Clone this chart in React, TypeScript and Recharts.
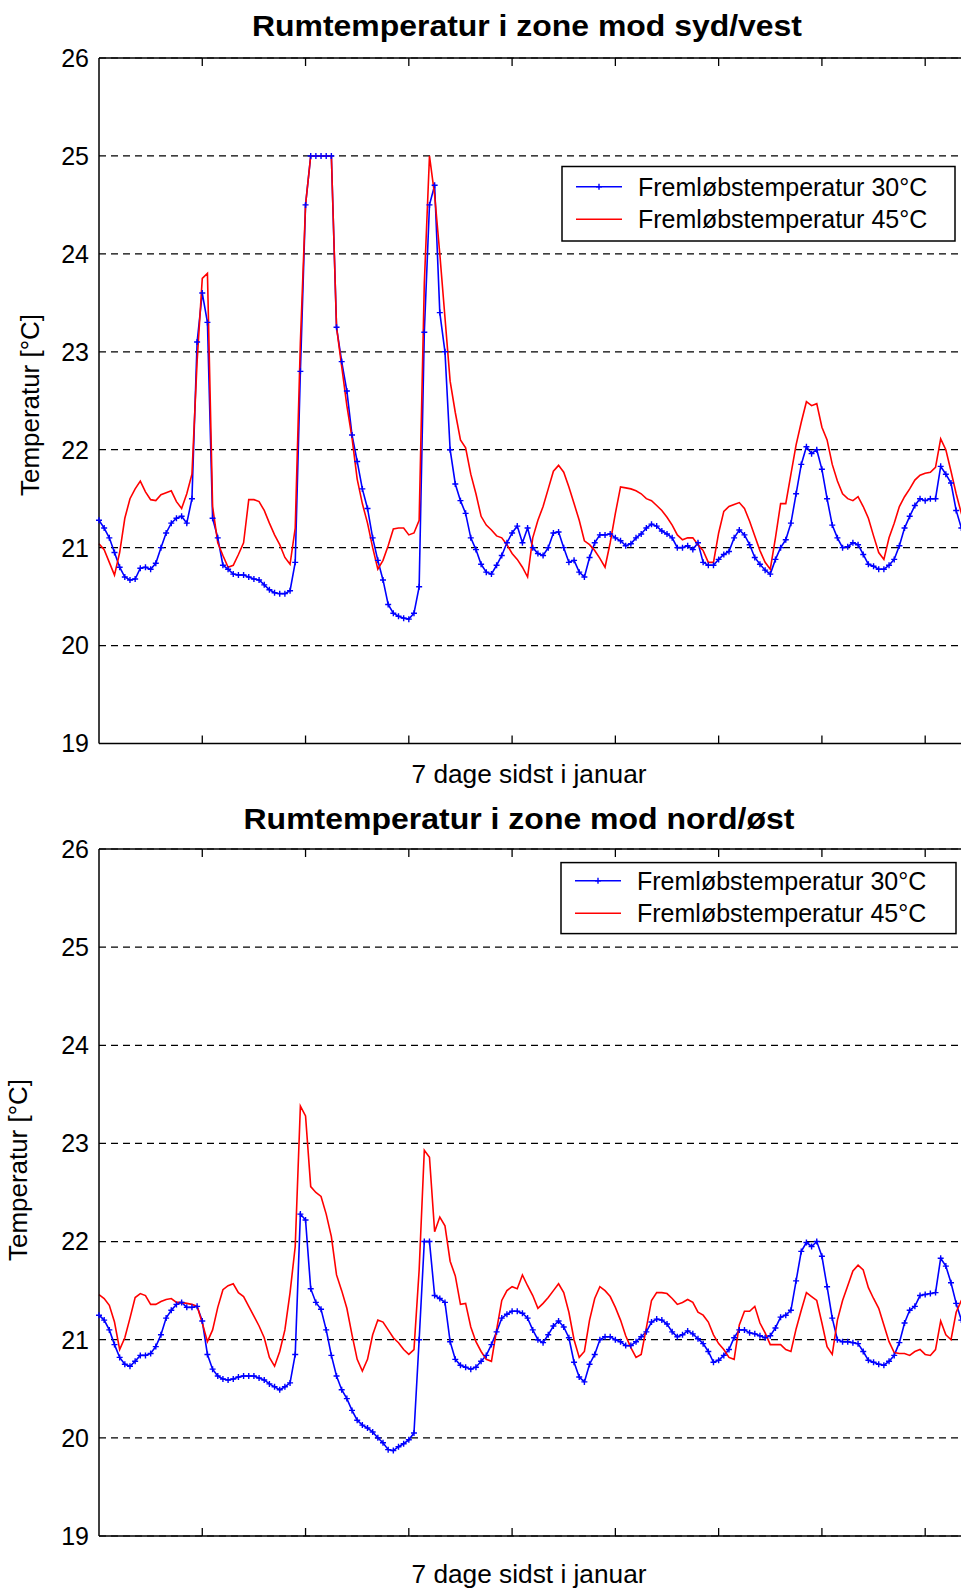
import React from 'react';
import { LineChart, Line, XAxis, YAxis, CartesianGrid } from 'recharts';

// hourly room temperatures, 7 days (hour 0..168)
const topBlue = [
  21.28, 21.2, 21.1, 20.95, 20.8, 20.7, 20.67, 20.68, 20.79, 20.8,
  20.78, 20.84, 21.0, 21.15, 21.25, 21.3, 21.32, 21.25, 21.5, 23.1,
  23.6, 23.3, 21.3, 21.1, 20.82, 20.78, 20.73, 20.72, 20.72, 20.7,
  20.68, 20.67, 20.62, 20.57, 20.54, 20.53, 20.53, 20.56, 20.85, 22.8,
  24.5, 25, 25, 25, 25, 25, 23.25, 22.9, 22.6, 22.15,
  21.88, 21.6, 21.4, 21.1, 20.87, 20.67, 20.42, 20.33, 20.3, 20.28,
  20.27, 20.33, 20.6, 23.2, 24.5, 24.7, 23.4, 23.0, 22.0, 21.65,
  21.48, 21.35, 21.1, 20.98, 20.83, 20.75, 20.73, 20.82, 20.92, 21.05,
  21.15, 21.22, 21.05, 21.2, 21.0, 20.94, 20.92, 21.0, 21.15, 21.16,
  21.0, 20.85, 20.87, 20.75, 20.7, 20.9, 21.05, 21.13, 21.13, 21.14,
  21.1, 21.07, 21.02, 21.04, 21.1, 21.14, 21.2, 21.24, 21.22, 21.17,
  21.14, 21.1, 21.0, 21.0, 21.02, 20.98, 21.05, 20.85, 20.82, 20.82,
  20.88, 20.93, 20.96, 21.1, 21.18, 21.13, 21.03, 20.9, 20.83, 20.77,
  20.73, 20.88, 21.0, 21.08, 21.25, 21.55, 21.85, 22.03, 21.96, 22.0,
  21.8, 21.5, 21.23, 21.1, 21.0, 21.01, 21.05, 21.03, 20.93, 20.83,
  20.81, 20.78, 20.78, 20.82, 20.88, 21.02, 21.2, 21.32, 21.43, 21.5,
  21.48, 21.5, 21.5, 21.83, 21.75, 21.66, 21.38, 21.2, 21.1,
];

const topRed = [
  21.04, 20.98, 20.85, 20.72, 20.95, 21.3, 21.5, 21.6, 21.68, 21.57,
  21.49, 21.48, 21.54, 21.56, 21.58, 21.47, 21.4, 21.55, 21.75, 22.9,
  23.75, 23.8, 21.42, 21.05, 20.92, 20.8, 20.82, 20.93, 21.05, 21.49,
  21.49, 21.47, 21.38, 21.25, 21.13, 21.03, 20.9, 20.83, 21.2, 23.1,
  24.5, 25, 25, 25, 25, 25, 23.25, 22.85, 22.45, 22.12,
  21.7, 21.45, 21.25, 21.0, 20.78, 20.87, 21.02, 21.19, 21.2, 21.2,
  21.13, 21.15, 21.28, 23.7, 25, 24.6, 24.0, 23.35, 22.7, 22.38,
  22.1, 22.02, 21.75, 21.55, 21.32, 21.23, 21.18, 21.12, 21.1, 21.03,
  20.94, 20.88, 20.8, 20.7, 21.1, 21.28, 21.42, 21.6, 21.78, 21.84,
  21.77, 21.62, 21.45, 21.28, 21.07, 21.03, 20.97, 20.89, 20.8, 21.05,
  21.35, 21.62, 21.61, 21.6, 21.58, 21.55, 21.5, 21.48, 21.43, 21.38,
  21.31, 21.23, 21.13, 21.08, 21.1, 21.1, 21.03, 20.97, 20.85, 20.85,
  21.15, 21.37, 21.42, 21.44, 21.46, 21.4, 21.27, 21.12, 20.97, 20.85,
  20.78, 21.1, 21.45, 21.45, 21.75, 22.05, 22.28, 22.49, 22.45, 22.47,
  22.23, 22.1, 21.85, 21.68, 21.55, 21.5, 21.48, 21.52, 21.42, 21.3,
  21.12, 20.95, 20.88, 21.1, 21.25, 21.42, 21.52, 21.6, 21.69, 21.74,
  21.76, 21.77, 21.82, 22.11, 22.0, 21.78, 21.55, 21.35, 21.2,
];

const bottomBlue = [
  21.25, 21.2, 21.1, 20.95, 20.82, 20.75, 20.73, 20.78, 20.84, 20.84,
  20.86, 20.93, 21.05, 21.22, 21.3, 21.36, 21.38, 21.33, 21.33, 21.34,
  21.19, 20.85, 20.7, 20.63, 20.6, 20.59, 20.6, 20.62, 20.63, 20.63,
  20.63, 20.61, 20.59, 20.55, 20.52, 20.49, 20.52, 20.56, 20.85, 22.28,
  22.22, 21.52, 21.38, 21.31, 21.1, 20.84, 20.63, 20.49, 20.4, 20.28,
  20.18, 20.13, 20.1, 20.06, 20.0, 19.95, 19.88, 19.87, 19.91, 19.94,
  19.98, 20.05, 21.0, 22.0, 22.0, 21.45, 21.42, 21.38, 20.98, 20.8,
  20.74, 20.72, 20.7, 20.72, 20.78, 20.84, 20.95, 21.08, 21.22, 21.26,
  21.29, 21.29, 21.27, 21.22, 21.1, 21.0, 20.97, 21.05, 21.14, 21.19,
  21.13, 21.02, 20.77, 20.62, 20.57, 20.75, 20.85, 21.0, 21.03, 21.03,
  21.0, 20.98, 20.94, 20.94, 20.98, 21.03, 21.08, 21.18, 21.21, 21.2,
  21.16, 21.08, 21.03, 21.05, 21.09, 21.06, 21.01, 20.96, 20.88, 20.77,
  20.79, 20.84, 20.9, 21.02, 21.1, 21.1, 21.07, 21.06, 21.04, 21.02,
  21.04, 21.12, 21.23, 21.25, 21.3, 21.6, 21.9, 21.99, 21.95, 22.0,
  21.85, 21.54, 21.22, 21.0, 20.98, 20.98, 20.97, 20.96, 20.88, 20.79,
  20.77, 20.75, 20.74, 20.78, 20.84, 20.97, 21.17, 21.3, 21.34, 21.45,
  21.46, 21.47, 21.48, 21.83, 21.75, 21.58, 21.37, 21.2, 21.1,
];

const bottomRed = [
  21.46, 21.42, 21.35, 21.18, 20.9, 21.02, 21.22, 21.43, 21.47, 21.45,
  21.36, 21.36, 21.39, 21.41, 21.42, 21.38, 21.38, 21.37, 21.36, 21.34,
  21.17, 20.98, 21.1, 21.33, 21.51, 21.55, 21.57, 21.48, 21.44, 21.34,
  21.24, 21.14, 21.02, 20.82, 20.73, 20.88, 21.1, 21.48, 21.95, 23.38,
  23.28, 22.56, 22.5, 22.46, 22.28, 22.05, 21.66, 21.5, 21.32, 21.05,
  20.8, 20.68, 20.8, 21.05, 21.2, 21.18, 21.1, 21.02, 20.97, 20.9,
  20.85, 20.9, 21.71, 22.93, 22.86, 22.1, 22.25, 22.16, 21.8, 21.65,
  21.36, 21.37, 21.13, 20.98, 20.88, 20.8, 20.78, 21.1, 21.4, 21.5,
  21.54, 21.52, 21.66, 21.55, 21.45, 21.32, 21.37, 21.43, 21.5, 21.57,
  21.48, 21.28, 21.0, 20.82, 20.88, 21.2, 21.42, 21.54, 21.5, 21.44,
  21.33, 21.2, 21.04, 20.92, 20.82, 20.85, 21.12, 21.4, 21.48, 21.48,
  21.47, 21.42, 21.36, 21.38, 21.41, 21.38, 21.28, 21.25, 21.18, 21.05,
  20.96, 20.9, 20.82, 20.8, 21.15, 21.29, 21.29, 21.34, 21.17, 21.07,
  20.95, 20.95, 20.95, 20.9, 20.88, 21.11, 21.3, 21.48, 21.44, 21.4,
  21.17, 20.93, 20.85, 21.2, 21.4, 21.55, 21.7, 21.76, 21.71, 21.53,
  21.42, 21.32, 21.15, 20.98, 20.87, 20.86, 20.86, 20.84, 20.88, 20.9,
  20.85, 20.84, 20.9, 21.19, 21.05, 21.0, 21.28, 21.4, 21.45,
];

const seriesNames = ['Fremløbstemperatur 30°C', 'Fremløbstemperatur 45°C'];
const titles = ['Rumtemperatur i zone mod syd/vest', 'Rumtemperatur i zone mod nord/øst'];
const xLabel = '7 dage sidst i januar';
const yLabel = 'Temperatur [°C]';
const yTicks = [19, 20, 21, 22, 23, 24, 25, 26];
const xTicks = [20, 40, 60, 80, 100, 120, 140, 160];

const FONT = '"Liberation Sans", Arial, Helvetica, sans-serif';
const BLUE = '#0000ff';
const RED = '#ff0000';
const AX_H = 20; // reserved height of the top/bottom axes

const makeRows = (blue: number[], red: number[]) =>
  blue.map((v, i) => ({ h: i, blue: v, red: red[i] }));

const PlusDot = (props: any) => {
  const { cx, cy, index } = props;
  if (cx == null || cy == null) return <g key={index} />;
  return (
    <path
      key={index}
      d={`M${cx - 3},${cy}h6M${cx},${cy - 3}v6`}
      stroke={BLUE}
      strokeWidth={1.4}
      fill="none"
    />
  );
};

// x axis has tick marks but no labels
const NoLabel = () => <g />;

function Panel({ data, top, height, plotTop, plotBottom }: any) {
  const axisLine = { stroke: '#000', strokeWidth: 1.5 };
  const tickLine = { stroke: '#000', strokeWidth: 1.3 };
  return (
    <div style={{ position: 'absolute', left: 0, top, width: 1000, height }}>
      <LineChart
        width={1000}
        height={height}
        data={data}
        margin={{ top: plotTop - AX_H, right: 33.5, bottom: height - plotBottom - AX_H, left: 0 }}
      >
        <CartesianGrid
          xAxisId="b"
          vertical={false}
          stroke="#000"
          strokeWidth={1.2}
          strokeDasharray="7 5"
        />
        <XAxis
          xAxisId="b"
          dataKey="h"
          type="number"
          domain={[0, 168]}
          ticks={xTicks}
          height={AX_H}
          tick={NoLabel}
          tickSize={-8}
          axisLine={axisLine}
          tickLine={tickLine}
        />
        <XAxis
          xAxisId="t"
          orientation="top"
          dataKey="h"
          type="number"
          domain={[0, 168]}
          ticks={xTicks}
          height={AX_H}
          tick={NoLabel}
          tickSize={-8}
          axisLine={axisLine}
          tickLine={tickLine}
        />
        <YAxis
          type="number"
          domain={[19, 26]}
          ticks={yTicks}
          allowDataOverflow
          width={99}
          tickSize={0}
          tickMargin={10}
          axisLine={axisLine}
          tickLine={false}
          tick={{ fill: '#000', fontSize: 25, fontFamily: FONT }}
        />
        <Line
          xAxisId="b"
          type="linear"
          dataKey="blue"
          stroke={BLUE}
          strokeWidth={1.6}
          dot={PlusDot}
          activeDot={false}
          isAnimationActive={false}
        />
        <Line
          xAxisId="b"
          type="linear"
          dataKey="red"
          stroke={RED}
          strokeWidth={1.6}
          dot={false}
          activeDot={false}
          isAnimationActive={false}
        />
      </LineChart>
    </div>
  );
}

function LegendBox({ x, y, w, h, r1, r2 }: any) {
  return (
    <g>
      <rect x={x} y={y} width={w} height={h} fill="#fff" stroke="#000" strokeWidth={1.5} />
      <line x1={x + 14} x2={x + 60} y1={y + r1} y2={y + r1} stroke={BLUE} strokeWidth={1.6} />
      <path d={`M${x + 34},${y + r1}h6M${x + 37},${y + r1 - 3}v6`} stroke={BLUE} strokeWidth={1.4} />
      <text x={x + 76} y={y + r1} dominantBaseline="central" fontSize={25} fontFamily={FONT}>
        {seriesNames[0]}
      </text>
      <line x1={x + 14} x2={x + 60} y1={y + r2} y2={y + r2} stroke={RED} strokeWidth={1.6} />
      <text x={x + 76} y={y + r2} dominantBaseline="central" fontSize={25} fontFamily={FONT}>
        {seriesNames[1]}
      </text>
    </g>
  );
}

export default function App() {
  const rowsTop = makeRows(topBlue, topRed);
  const rowsBottom = makeRows(bottomBlue, bottomRed);
  return (
    <div
      style={{
        position: 'absolute',
        left: 0,
        top: 0,
        width: 961,
        height: 1591,
        overflow: 'hidden',
        background: '#fff',
      }}
    >
      <Panel data={rowsTop} top={0} height={800} plotTop={58} plotBottom={743.5} />
      <Panel data={rowsBottom} top={790} height={801} plotTop={59} plotBottom={746} />
      <svg
        width={961}
        height={1591}
        style={{ position: 'absolute', left: 0, top: 0, pointerEvents: 'none' }}
      >
        <text x={527} y={25} textAnchor="middle" dominantBaseline="central" fontSize={30} fontWeight="bold" fontFamily={FONT} textLength={550} lengthAdjust="spacingAndGlyphs">
          {titles[0]}
        </text>
        <text x={519} y={818} textAnchor="middle" dominantBaseline="central" fontSize={30} fontWeight="bold" fontFamily={FONT} textLength={551} lengthAdjust="spacingAndGlyphs">
          {titles[1]}
        </text>
        <text x={529} y={774} textAnchor="middle" dominantBaseline="central" fontSize={25} fontFamily={FONT} textLength={235} lengthAdjust="spacingAndGlyphs">
          {xLabel}
        </text>
        <text x={529} y={1574} textAnchor="middle" dominantBaseline="central" fontSize={25} fontFamily={FONT} textLength={235} lengthAdjust="spacingAndGlyphs">
          {xLabel}
        </text>
        <text x={30} y={405} transform="rotate(-90 30 405)" textAnchor="middle" dominantBaseline="central" fontSize={25.5} fontFamily={FONT} textLength={182} lengthAdjust="spacingAndGlyphs">
          {yLabel}
        </text>
        <text x={18} y={1170} transform="rotate(-90 18 1170)" textAnchor="middle" dominantBaseline="central" fontSize={25.5} fontFamily={FONT} textLength={182} lengthAdjust="spacingAndGlyphs">
          {yLabel}
        </text>
        <LegendBox x={562} y={166.5} w={393} h={74.5} r1={20.2} r2={52.8} />
        <LegendBox x={561} y={862.6} w={395} h={71} r1={18.2} r2={50.7} />
      </svg>
    </div>
  );
}
